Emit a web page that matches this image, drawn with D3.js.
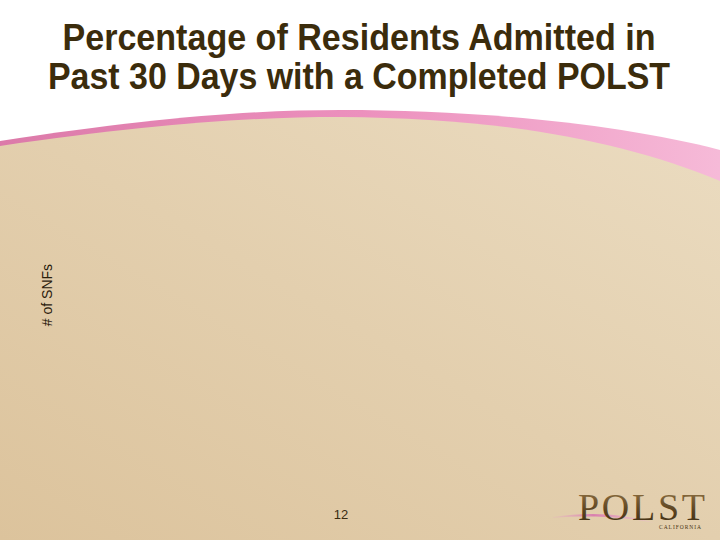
<!DOCTYPE html>
<html><head><meta charset="utf-8">
<script src="https://cdn.jsdelivr.net/npm/d3@7"></script>
<style>html,body{margin:0;padding:0;background:#fff;}svg{display:block;}</style>
</head><body>
<script>
// Chart content (the chart area is empty in the reference)
const titleLines = ["Percentage of Residents Admitted in", "Past 30 Days with a Completed POLST"];
const yAxisLabel = "# of SNFs";
const categories = [];
const seriesValues = [];
const pageNumber = "12";
const logoText = "POLST";
const logoSub = "CALIFORNIA";

const W = 720, H = 540;
const svg = d3.select("body").append("svg").attr("width", W).attr("height", H);
const defs = svg.append("defs");

const bg = defs.append("linearGradient").attr("id","bg").attr("x1","0").attr("y1","1").attr("x2","1").attr("y2","0");
bg.append("stop").attr("offset","0").attr("stop-color","#dcc39c");
bg.append("stop").attr("offset","0.5").attr("stop-color","#e3cfae");
bg.append("stop").attr("offset","1").attr("stop-color","#ebdcc1");

const pk = defs.append("linearGradient").attr("id","pk").attr("x1","0").attr("y1","0").attr("x2","1").attr("y2","0");
pk.append("stop").attr("offset","0").attr("stop-color","#dc7aa9");
pk.append("stop").attr("offset","0.5").attr("stop-color","#ec90bd");
pk.append("stop").attr("offset","1").attr("stop-color","#f6bad8");

const lg = defs.append("linearGradient").attr("id","lg").attr("x1","0").attr("y1","0").attr("x2","0").attr("y2","1");
lg.append("stop").attr("offset","0").attr("stop-color","#9a7a48");
lg.append("stop").attr("offset","0.6").attr("stop-color","#5a4220");
lg.append("stop").attr("offset","1").attr("stop-color","#3a2a10");

const sw = defs.append("linearGradient").attr("id","sw").attr("x1","0").attr("y1","0").attr("x2","1").attr("y2","0");
sw.append("stop").attr("offset","0").attr("stop-color","#e7a7c6").attr("stop-opacity","0.2");
sw.append("stop").attr("offset","0.4").attr("stop-color","#d97fae");
sw.append("stop").attr("offset","1").attr("stop-color","#f0c0d8").attr("stop-opacity","0.4");

svg.append("rect").attr("width",W).attr("height",H).attr("fill","#ffffff");

// pink band (upper edge)
svg.append("path")
  .attr("d","M0,141 C150,118 250,110 340,110 C480,110 620,124 720,150 L720,540 L0,540 Z")
  .attr("fill","url(#pk)");
// beige body
svg.append("path")
  .attr("d","M0,146 C150,124 250,117 340,117 C500,118 620,140 720,181 L720,540 L0,540 Z")
  .attr("fill","url(#bg)");

// Title
const title = svg.append("g").attr("font-family","'Liberation Sans', Arial, sans-serif")
  .attr("font-weight","bold").attr("fill","#3b2c0c").attr("text-anchor","middle");
const tw = [593, 622];
title.selectAll("text").data(titleLines).join("text")
  .attr("x",359).attr("y",(d,i)=>50+i*39)
  .attr("font-size",36)
  .attr("textLength",(d,i)=>tw[i]).attr("lengthAdjust","spacingAndGlyphs")
  .text(d=>d);

// Chart (empty plot area)
const x = d3.scaleBand().domain(categories).range([70, 680]);
const y = d3.scaleLinear().domain([0, 1]).range([480, 200]);
svg.append("g").selectAll("rect").data(seriesValues).join("rect")
  .attr("x",(d,i)=>x(categories[i])).attr("width",x.bandwidth())
  .attr("y",d=>y(d)).attr("height",d=>y(0)-y(d));

svg.append("text")
  .attr("transform","translate(52,295) rotate(-90)")
  .attr("text-anchor","middle")
  .attr("font-family","'Liberation Sans', Arial, sans-serif")
  .attr("font-size",14).attr("fill","#2b200c")
  .text(yAxisLabel);

svg.append("text").attr("x",341).attr("y",519).attr("text-anchor","middle")
  .attr("font-family","'Liberation Sans', Arial, sans-serif").attr("font-size",13)
  .attr("fill","#3a2c12").text(pageNumber);

// Logo
svg.append("path")
  .attr("d","M553,517 C590,511 625,514 655,523 C625,517 590,515 553,518 Z")
  .attr("fill","url(#sw)");
svg.append("text").attr("x",578).attr("y",520)
  .attr("font-family","'Liberation Serif', 'DejaVu Serif', serif")
  .attr("font-size",38).attr("fill","url(#lg)")
  .attr("textLength",127).attr("lengthAdjust","spacing")
  .text(logoText);
svg.append("text").attr("x",659).attr("y",529)
  .attr("font-family","'Liberation Serif', serif").attr("font-size",5.5)
  .attr("fill","#4a3414").attr("textLength",42).text(logoSub);
</script>
</body></html>
